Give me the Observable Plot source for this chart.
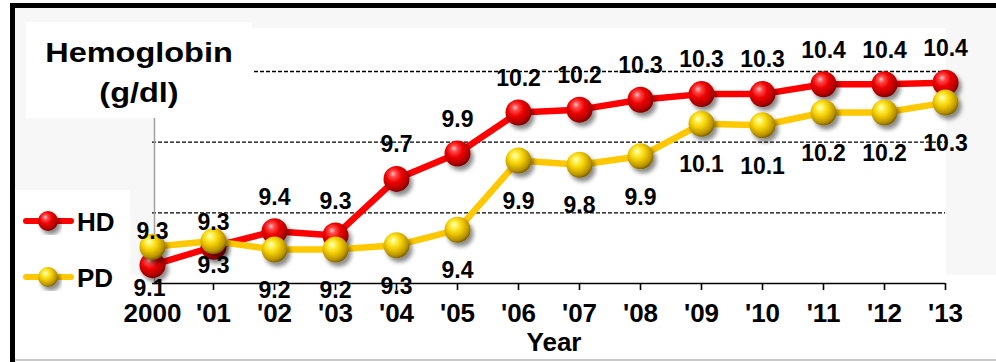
<!DOCTYPE html>
<html><head><meta charset="utf-8">
<script src="https://cdn.jsdelivr.net/npm/d3@7"></script>
<script src="https://cdn.jsdelivr.net/npm/@observablehq/plot@0.6"></script>
<style>
html,body{margin:0;padding:0;background:#fff;color:#000;}
#wrap{position:relative;width:996px;height:362px;overflow:hidden;font-family:"Liberation Sans",Arial,sans-serif;}
.abs{position:absolute;}
</style></head><body>
<div id="wrap">
  <div class="abs" style="left:15px;top:8px;width:981px;height:267px;background:#f7f7f7"></div>
  <div class="abs" style="left:154px;top:28px;width:792px;height:255px;background:#fff"></div>
  <div class="abs" style="left:15px;top:359px;width:981px;height:2px;background:#c8c8c8"></div>
  <div id="chart" class="abs" style="left:0;top:0"></div>
  <svg id="overlay" class="abs" style="left:0;top:0" width="996" height="362"></svg>
  <div class="abs" style="left:10px;top:3px;width:986px;height:5px;background:#000"></div>
  <div class="abs" style="left:10px;top:3px;width:5px;height:359px;background:#000"></div>
</div>
<script>
// ---- data ----
const years = ["2000", "'01", "'02", "'03", "'04", "'05", "'06", "'07", "'08", "'09", "'10", "'11", "'12", "'13"];
const hdValues = [9.13, 9.26, 9.37, 9.34, 9.74, 9.92, 10.21, 10.23, 10.30, 10.34, 10.34, 10.41, 10.41, 10.42];
const pdValues = [9.26, 9.30, 9.24, 9.24, 9.27, 9.38, 9.87, 9.84, 9.90, 10.13, 10.12, 10.21, 10.21, 10.28];
const gridValues = [9.5, 10, 10.5];
const seriesNames = ["HD", "PD"];
const xAxisTitle = "Year";
const titleLines = ["Hemoglobin", "(g/dl)"];

// ---- build ----
const FONT = "Liberation Sans, Arial, sans-serif";
const hd = years.map((year, i) => ({year, value: hdValues[i], i}));
const pd = years.map((year, i) => ({year, value: pdValues[i], i}));
const fmt = d => d.value.toFixed(1);
const lbl = {fontSize: 23, fontWeight: "bold", fill: "#000", x: "year", y: "value", text: fmt};

const chart = Plot.plot({
  width: 996,
  height: 362,
  marginLeft: 152,
  marginRight: 51,
  marginTop: 71,
  marginBottom: 79,
  style: {background: "transparent", fontFamily: FONT, overflow: "visible"},
  x: {type: "point", domain: years, padding: 0, axis: null},
  y: {domain: [9, 10.5], axis: null},
  marks: [
    Plot.ruleY(gridValues, {stroke: "#000", strokeWidth: 1.3, strokeDasharray: "4,2"}),
    Plot.ruleX([years[0]], {y1: 9, y2: 10.8, stroke: "#a0a0a0", strokeWidth: 1.5, dx: 2}),
    Plot.ruleY([9], {stroke: "#000", strokeWidth: 1.6}),
    Plot.ruleX(years.slice(1), {y1: 9, y2: 8.95, stroke: "#000", strokeWidth: 1.6}),
    Plot.line(hd, {x: "year", y: "value", stroke: "#ff0000", strokeWidth: 6.5}),
    Plot.dot(hd, {x: "year", y: "value", r: 13, fill: "url(#gHD)", stroke: "none"}),
    Plot.line(pd, {x: "year", y: "value", stroke: "#ffc800", strokeWidth: 6.5}),
    Plot.dot(pd, {x: "year", y: "value", r: 13, fill: "url(#gPD)", stroke: "none"}),
    Plot.text(hd.slice(2), {...lbl, dy: -34}),
    Plot.text([hd[0]], {...lbl, dy: 23, dx: -3}),
    Plot.text([hd[1]], {...lbl, dy: 19}),
    Plot.text(pd.slice(2), {...lbl, dy: 41}),
    Plot.text([pd[0]], {...lbl, dy: -15}),
    Plot.text([pd[1]], {...lbl, dy: -18}),
    Plot.text(years, {x: d => d, text: d => d, frameAnchor: "bottom", dy: 38, fontSize: 26, fontWeight: "bold", fill: "#000"}),
    Plot.text([xAxisTitle], {text: d => d, frameAnchor: "bottom", dy: 67, dx: 5, fontSize: 26, fontWeight: "bold", fill: "#000"})
  ]
});

function addDefs(sel, prefix) {
  const defs = sel.insert("defs", ":first-child");
  const f = defs.append("filter").attr("id", prefix + "shadow")
    .attr("x", "-20%").attr("y", "-20%").attr("width", "140%").attr("height", "140%");
  f.append("feDropShadow").attr("dx", 3).attr("dy", 4).attr("stdDeviation", 2.2)
    .attr("flood-color", "#000").attr("flood-opacity", 0.45);
  const grads = [
    [prefix + "gHD", [[0, "#ffc8c8"], [0.2, "#ff4a4a"], [0.5, "#ee0000"], [0.85, "#b00000"], [1, "#7a0000"]]],
    [prefix + "gPD", [[0, "#ffffd8"], [0.2, "#fff250"], [0.5, "#f2cc00"], [0.85, "#b89200"], [1, "#7d6200"]]]
  ];
  for (const [id, stops] of grads) {
    const g = defs.append("radialGradient").attr("id", id)
      .attr("cx", 0.42).attr("cy", 0.38).attr("r", 0.62).attr("fx", 0.36).attr("fy", 0.3);
    for (const [o, c] of stops) g.append("stop").attr("offset", o).attr("stop-color", c);
  }
}

const svg = d3.select(chart);
addDefs(svg, "");
svg.selectAll('g[aria-label="dot"]').attr("filter", "url(#shadow)");
document.getElementById("chart").appendChild(chart);

// ---- overlay: title box and legend ----
const ov = d3.select("#overlay");
addDefs(ov, "L");
ov.append("rect").attr("x", 26).attr("y", 22).attr("width", 226).attr("height", 96).attr("fill", "#fff");
const tt = ov.append("g").attr("transform", "translate(139,0) scale(1.16,1)");
tt.append("text").attr("x", 0).attr("y", 62).text(titleLines[0]);
tt.append("text").attr("x", 0).attr("y", 102).text(titleLines[1]);
tt.selectAll("text").attr("text-anchor", "middle").attr("font-size", 28)
  .attr("font-weight", "bold").attr("font-family", FONT).attr("fill", "#000");

ov.append("rect").attr("x", 15).attr("y", 190).attr("width", 115).attr("height", 93).attr("fill", "#fff");
const legendColors = ["#ff0000", "#ffc800"];
const legendY = [221, 277];
seriesNames.forEach((name, i) => {
  const g = ov.append("g").attr("transform", `translate(0,${legendY[i]})`);
  g.append("line").attr("x1", 26).attr("x2", 71).attr("y1", 0).attr("y2", 0)
    .attr("stroke", legendColors[i]).attr("stroke-width", 6).attr("stroke-linecap", "round");
  g.append("circle").attr("cx", 48).attr("cy", 0).attr("r", 10)
    .attr("fill", `url(#Lg${name})`).attr("filter", "url(#Lshadow)");
  g.append("text").attr("x", 77).attr("y", 10).text(name)
    .attr("font-size", 26).attr("font-weight", "bold").attr("font-family", FONT).attr("fill", "#000");
});
</script>
</body></html>
